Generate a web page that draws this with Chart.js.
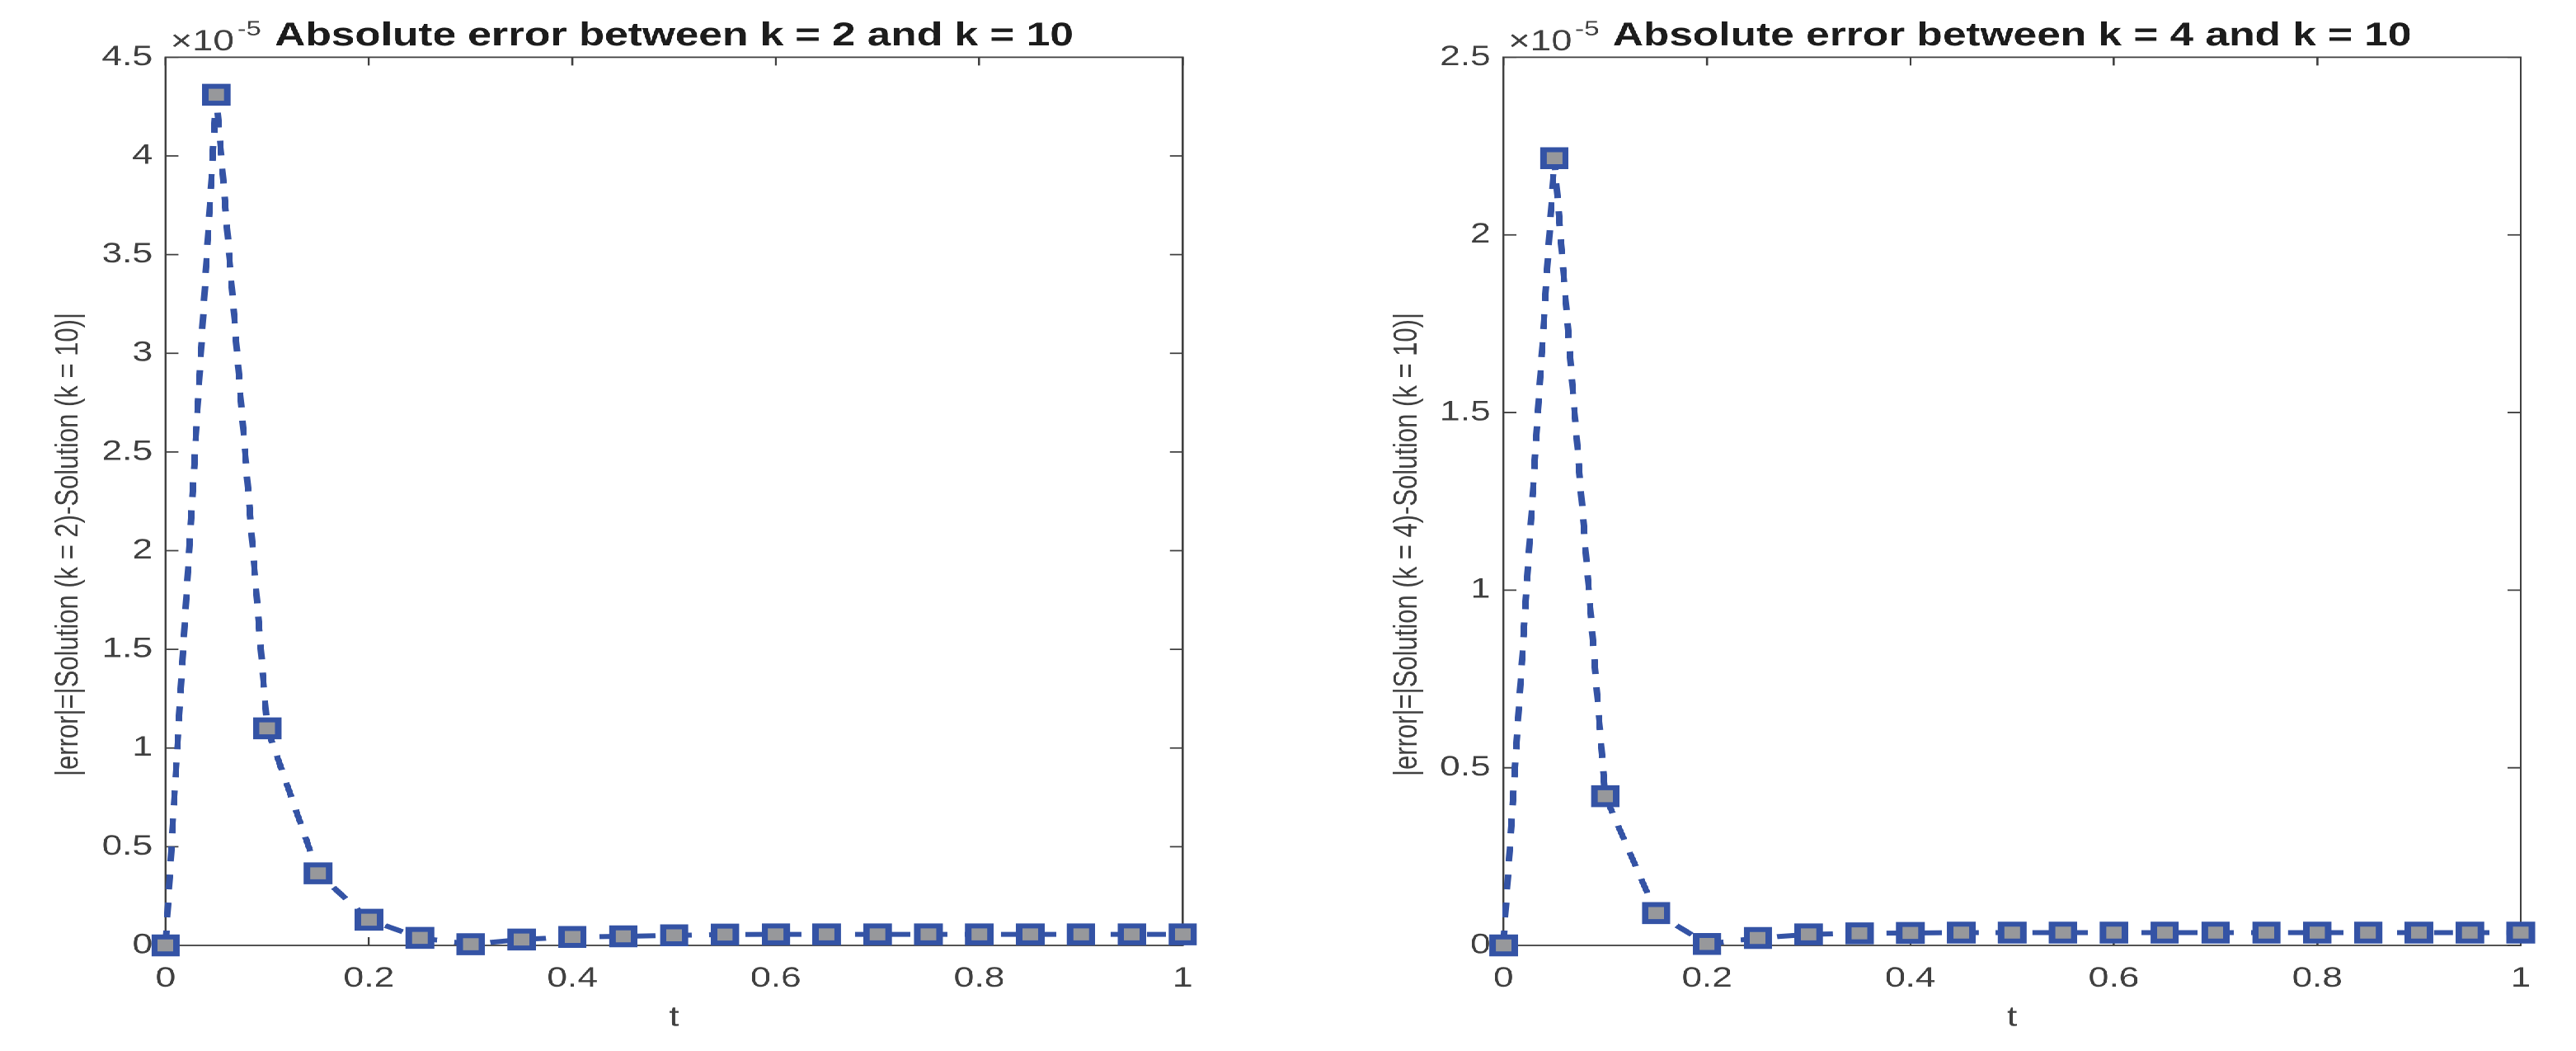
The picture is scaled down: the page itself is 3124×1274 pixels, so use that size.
<!DOCTYPE html>
<html>
<head>
<meta charset="utf-8">
<script src="https://cdn.jsdelivr.net/npm/chart.js"></script>
<style>
    html, body { margin: 0; padding: 0; background: #fff; overflow: hidden; }
    #stage {
        position: absolute; left: 0; top: 0;
        width: 2400px; height: 1274px;
        transform: scale(1.301667, 1);
        transform-origin: 0 0;
    }
    .panel { position: absolute; top: 0; width: 1200px; height: 1274px; }
</style>
</head>
<body>
<div id="stage">
    <div class="panel" style="left:0"><canvas id="chart-k2"></canvas></div>
    <div class="panel" style="left:1200px"><canvas id="chart-k4"></canvas></div>
</div>
<script>
// values, y in units of 1e-5
const tValues = [0, 0.05, 0.1, 0.15, 0.2, 0.25, 0.3, 0.35, 0.4, 0.45, 0.5,
                 0.55, 0.6, 0.65, 0.7, 0.75, 0.8, 0.85, 0.9, 0.95, 1];
const errorK2 = [0, 4.31, 1.10, 0.365, 0.13, 0.038, 0.006, 0.03, 0.043, 0.046, 0.051,
                 0.055, 0.056, 0.056, 0.056, 0.056, 0.056, 0.056, 0.056, 0.056, 0.056];
const errorK4 = [0, 2.216, 0.42, 0.091, 0.004, 0.021, 0.031, 0.034, 0.035, 0.036, 0.036,
                 0.036, 0.036, 0.036, 0.036, 0.036, 0.036, 0.036, 0.036, 0.036, 0.036];
const xTicks = [0, 0.2, 0.4, 0.6, 0.8, 1];
const yMaxK2 = 4.5;
const yMaxK4 = 2.5;
const yStep = 0.5;
const exponent = '-5';

const FONT = "'Liberation Sans', Arial, Helvetica, sans-serif";
const AXIS_COLOR = '#404040';
const LINE_COLOR = '#3453a5';
const MARKER_FILL = '#97989b';

// MATLAB style box, inward ticks, title, ylabel and x10^n label
const matlabAxes = {
    id: 'matlabAxes',
    beforeDatasetsDraw(chart, args, opts) {
        const { ctx, chartArea: { left, right, top, bottom }, scales: { x, y } } = chart;
        ctx.save();
        ctx.strokeStyle = AXIS_COLOR;
        ctx.lineWidth = 1.8;
        ctx.strokeRect(left, top, right - left, bottom - top);
        ctx.beginPath();
        x.ticks.forEach(t => {
            const px = x.getPixelForValue(t.value);
            ctx.moveTo(px, bottom); ctx.lineTo(px, bottom - 10);
            ctx.moveTo(px, top); ctx.lineTo(px, top + 10);
        });
        y.ticks.forEach(t => {
            const py = y.getPixelForValue(t.value);
            ctx.moveTo(left, py); ctx.lineTo(left + 12, py);
            ctx.moveTo(right, py); ctx.lineTo(right - 12, py);
        });
        ctx.stroke();
        ctx.restore();
    },
    afterDraw(chart, args, opts) {
        const { ctx, chartArea: { left, right } } = chart;
        ctx.save();
        ctx.fillStyle = AXIS_COLOR;
        ctx.textBaseline = 'alphabetic';
        ctx.textAlign = 'left';
        ctx.font = `35px ${FONT}`;
        ctx.fillText('\u00d710', left + 4.5, 61);
        const w = ctx.measureText('\u00d710').width;
        ctx.font = `25px ${FONT}`;
        ctx.fillText(opts.exponent, left + 4.5 + w + 3, 43);

        // y label (sits a bit below the axes centre in the original)
        ctx.save();
        ctx.translate(left - 90, 660);
        ctx.rotate(-Math.PI / 2);
        ctx.textAlign = 'center';
        ctx.textBaseline = 'middle';
        ctx.font = `31px ${FONT}`;
        ctx.fillText(opts.yLabel, 0, 0);
        ctx.restore();

        ctx.fillStyle = '#1c1c1c';
        ctx.textAlign = 'center';
        ctx.font = `bold 39.5px ${FONT}`;
        ctx.fillText(opts.title, (left + right) / 2, 55);
        ctx.restore();
    }
};

function fmt(v) {
    return Number(v.toFixed(2)).toString();
}

function makeChart(canvasId, values, yMax, title, yLabel, padding) {
    const points = tValues.map((t, i) => ({ x: t, y: values[i] }));
    return new Chart(document.getElementById(canvasId), {
        type: 'line',
        data: {
            datasets: [{
                data: points,
                borderColor: LINE_COLOR,
                borderWidth: 6,
                borderDash: [18, 16],
                tension: 0,
                pointStyle: 'rect',
                pointRadius: 14.5,
                pointBorderWidth: 6,
                pointBorderColor: LINE_COLOR,
                pointBackgroundColor: MARKER_FILL,
                clip: false
            }]
        },
        options: {
            responsive: true,
            maintainAspectRatio: false,
            devicePixelRatio: 2,
            animation: false,
            events: [],
            layout: { padding: padding },
            plugins: {
                legend: { display: false },
                tooltip: { enabled: false },
                matlabAxes: { title: title, yLabel: yLabel, exponent: exponent }
            },
            scales: {
                x: {
                    type: 'linear',
                    min: 0,
                    max: 1,
                    afterBuildTicks: scale => { scale.ticks = xTicks.map(v => ({ value: v })); },
                    afterFit: scale => { scale.height = 128; },
                    grid: { display: false, drawTicks: false },
                    border: { display: false },
                    ticks: {
                        autoSkip: false,
                        maxRotation: 0,
                        padding: 20,
                        color: AXIS_COLOR,
                        font: { family: FONT, size: 34 },
                        callback: fmt
                    },
                    title: {
                        display: true,
                        text: 't',
                        color: AXIS_COLOR,
                        font: { family: FONT, size: 34 },
                        padding: { top: 0, bottom: 19.6 }
                    }
                },
                y: {
                    min: 0,
                    max: yMax,
                    afterFit: scale => { scale.width = 154.2; },
                    grid: { display: false, drawTicks: false },
                    border: { display: false },
                    ticks: {
                        stepSize: yStep,
                        autoSkip: false,
                        padding: 12,
                        color: AXIS_COLOR,
                        font: { family: FONT, size: 34 },
                        callback: fmt
                    }
                }
            }
        },
        plugins: [matlabAxes]
    });
}

makeChart('chart-k2', errorK2, yMaxK2,
    'Absolute error between k = 2 and k = 10',
    '|error|=|Solution (k = 2)-Solution (k = 10)|',
    { top: 69.4, right: 98.1, bottom: 0, left: 0 });

makeChart('chart-k4', errorK4, yMaxK4,
    'Absolute error between k = 4 and k = 10',
    '|error|=|Solution (k = 4)-Solution (k = 10)|',
    { top: 69.4, right: 51.5, bottom: 0, left: 46.6 });
</script>
</body>
</html>
